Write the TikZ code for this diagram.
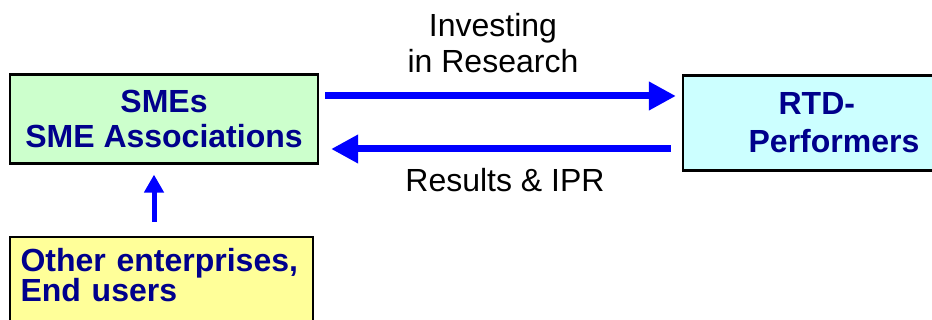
\documentclass[tikz,border=0pt]{standalone}
\usepackage{fontspec}
\setmainfont{Liberation Sans}
\usetikzlibrary{arrows.meta}
\definecolor{boxgreen}{RGB}{204,255,204}
\definecolor{boxcyan}{RGB}{204,255,255}
\definecolor{boxyellow}{RGB}{255,255,153}
\definecolor{navytext}{RGB}{0,0,140}
\definecolor{arrowblue}{RGB}{0,0,255}
\begin{document}
\begin{tikzpicture}[x=0.5pt,y=-0.5pt,
  box/.style={draw=black, line width=1.1pt, inner sep=0pt, text=navytext},
  lbl/.style={inner sep=0pt, font=\fontsize{16pt}{18pt}\selectfont},
  bigarrow/.style={draw=arrowblue, line width=3.5pt, -{Triangle[length=13.5pt,width=13.5pt]}},
  uparrow/.style={draw=arrowblue, line width=2.5pt, -{Triangle[length=9pt,width=9.5pt]}}]
\useasboundingbox (0,0) rectangle (932,320);

\node[box, fill=boxgreen, minimum width=154pt, minimum height=44.5pt, align=center,
      font=\fontsize{16pt}{17.5pt}\selectfont\bfseries] (sme) at (164,119) {SMEs\\SME Associations};

\node[box, fill=boxcyan, minimum width=126pt, minimum height=47.5pt, align=left,
      font=\fontsize{16pt}{19pt}\selectfont\bfseries] (rtd) at (809,123) {\hspace*{40pt}RTD-\\\hspace*{25pt}Performers};

\node[box, fill=boxyellow, anchor=north west, minimum width=151.5pt, inner ysep=5.5pt, text width=141pt, align=left,
      font=\fontsize{16pt}{15pt}\selectfont\bfseries] (oth) at (9,236) {Other enterprises,\\End users\rule[-20pt]{0pt}{0pt}};

\draw[bigarrow] ([shift={(6,-23)}]sme.east) -- ([shift={(-6,-27)}]rtd.west);
\draw[bigarrow] ([shift={(-11,26)}]rtd.west) -- ([shift={(12,30)}]sme.east);
\coordinate (uptip) at ([shift={(-10,10)}]sme.south);
\draw[uparrow] ([yshift=7pt]uptip |- oth.north) -- (uptip);

\node[lbl, align=center, anchor=south] (inv) at (493,73) {Investing\\in Research};
\node[lbl, anchor=base] (res) at (505,192) {Results \& IPR};
\end{tikzpicture}
\end{document}
